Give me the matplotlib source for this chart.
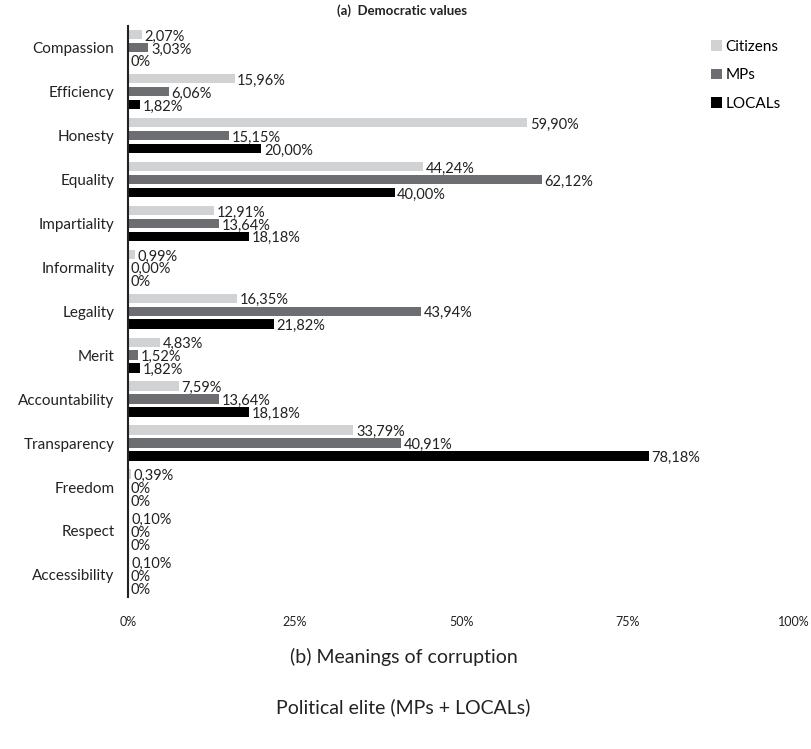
import numpy as np
import matplotlib.pyplot as plt

plt.rcParams['font.family'] = ['Lato', 'DejaVu Sans']

categories = ["Compassion", "Efficiency", "Honesty", "Equality", "Impartiality",
              "Informality", "Legality", "Merit", "Accountability", "Transparency",
              "Freedom", "Respect", "Accessibility"]

citizens = [2.07, 15.96, 59.90, 44.24, 12.91, 0.99, 16.35, 4.83, 7.59, 33.79, 0.39, 0.10, 0.10]
mps = [3.03, 6.06, 15.15, 62.12, 13.64, 0.00, 43.94, 1.52, 13.64, 40.91, 0, 0, 0]
locals_ = [0, 1.82, 20.00, 40.00, 18.18, 0, 21.82, 1.82, 18.18, 78.18, 0, 0, 0]

citizens_lbl = ["2,07%", "15,96%", "59,90%", "44,24%", "12,91%", "0,99%", "16,35%",
                "4,83%", "7,59%", "33,79%", "0,39%", "0,10%", "0,10%"]
mps_lbl = ["3,03%", "6,06%", "15,15%", "62,12%", "13,64%", "0,00%", "43,94%",
           "1,52%", "13,64%", "40,91%", "0%", "0%", "0%"]
locals_lbl = ["0%", "1,82%", "20,00%", "40,00%", "18,18%", "0%", "21,82%",
              "1,82%", "18,18%", "78,18%", "0%", "0%", "0%"]

series = [("Citizens", citizens, citizens_lbl, "#d1d2d3"),
          ("MPs", mps, mps_lbl, "#6d6e71"),
          ("LOCALs", locals_, locals_lbl, "#000000")]

fig = plt.figure(figsize=(8.12, 7.49), dpi=100)
ax = fig.add_axes([0.158, 0.203, 0.82, 0.762])

y = np.arange(len(categories))
off = 0.295
h = 0.21
for i, (name, vals, lbls, col) in enumerate(series):
    pos = y + (i - 1) * off
    ax.barh(pos, vals, height=h, color=col, label=name)
    for p, v, t in zip(pos, vals, lbls):
        ax.text(v + 0.4, p + 0.05, t, va='center', ha='left', fontsize=10.5, color='#222222')

ax.set_xlim(0, 100)
ax.set_ylim(12.5, -0.48)
ax.set_yticks(y)
ax.set_yticklabels(categories, fontsize=11, color='#222222')
ax.set_xticks([0, 25, 50, 75, 100])
ax.set_xticklabels(["0%", "25%", "50%", "75%", "100%"], fontsize=9, color='#222222')
ax.tick_params(axis='both', length=0)
ax.tick_params(axis='x', pad=14)
ax.tick_params(axis='y', pad=10)
for s in ['top', 'right', 'bottom']:
    ax.spines[s].set_visible(False)
ax.spines['left'].set_linewidth(1.5)
ax.spines['left'].set_color('#222222')

fig.text(0.495, 0.986, "(a)  Democratic values", ha='center', va='center',
         fontsize=9.5, fontweight='bold', color='#222222')

ax.legend(loc='upper right', bbox_to_anchor=(1.0, 1.0), frameon=False, fontsize=11,
          handlelength=0.7, handleheight=0.7, handletextpad=0.2, labelspacing=0.95)

fig.text(0.497, 0.123, "(b) Meanings of corruption", ha='center', va='center', fontsize=14, color='#222222')
fig.text(0.497, 0.056, "Political elite (MPs + LOCALs)", ha='center', va='center', fontsize=14, color='#222222')

fig.savefig("out.png", dpi=100)
